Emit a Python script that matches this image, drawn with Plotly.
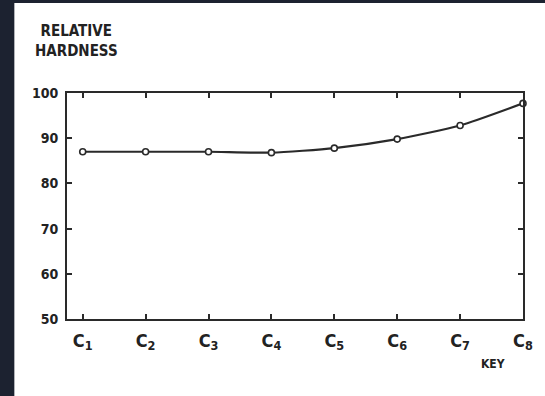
import plotly.graph_objects as go

# Relative hardness for each key
keys = ["C<sub>1</sub>", "C<sub>2</sub>", "C<sub>3</sub>", "C<sub>4</sub>",
        "C<sub>5</sub>", "C<sub>6</sub>", "C<sub>7</sub>", "C<sub>8</sub>"]
hardness = [87.0, 87.0, 87.0, 86.8, 87.8, 89.8, 92.8, 97.7]
y_ticks = [50, 60, 70, 80, 90, 100]

FONT = "DejaVu Sans Condensed"
INK = "#2a2a2a"

W, H = 545, 396
L, R, T, B = 67, 19, 93, 77
pw, ph = W - L - R, H - T - B

def px_x(x):
    return (x - L) / pw

def px_y(y):
    return (H - B - y) / ph

xs = list(range(len(keys)))

fig = go.Figure()
fig.add_trace(go.Scatter(
    x=xs, y=hardness,
    mode="lines+markers",
    line=dict(color=INK, width=2.2, shape="spline", smoothing=0.6),
    marker=dict(symbol="circle", size=6, color="white",
                line=dict(color=INK, width=1.6)),
    cliponaxis=False,
    hoverinfo="skip",
))

axis_common = dict(
    showline=True, linecolor=INK, linewidth=2, mirror="allticks",
    ticks="inside", ticklen=5, tickwidth=2, tickcolor=INK,
    showgrid=False, zeroline=False,
)

fig.update_xaxes(
    range=[-0.25, len(keys) - 1],
    tickvals=xs, ticktext=keys,
    ticklabelstandoff=4,
    tickfont=dict(family=FONT, size=18, color="#222222", weight="bold"),
    **axis_common,
)
fig.update_yaxes(
    range=[50, 100],
    tickvals=y_ticks,
    ticklabelstandoff=4,
    tickfont=dict(family=FONT, size=14, color="#222222", weight="bold"),
    **axis_common,
)

# White sheet behind the chart, leaving a dark border on the left and top
fig.add_shape(type="rect", xref="paper", yref="paper",
              x0=px_x(14), x1=px_x(W + 5), y0=px_y(H + 5), y1=px_y(3),
              fillcolor="white", line=dict(width=0), layer="below")

fig.add_annotation(
    text="RELATIVE<br>HARDNESS", xref="paper", yref="paper",
    x=px_x(77), y=px_y(20), xanchor="center", yanchor="top", align="center",
    showarrow=False,
    font=dict(family=FONT, size=15, color="#222222", weight="bold"),
)
fig.add_annotation(
    text="KEY", xref="paper", yref="paper",
    x=px_x(482), y=px_y(355), xanchor="left", yanchor="top",
    showarrow=False,
    font=dict(family=FONT, size=12, color="#222222", weight="bold"),
)

fig.update_layout(
    width=W, height=H,
    margin=dict(l=L, r=R, t=T, b=B),
    paper_bgcolor="#1c2230",
    plot_bgcolor="white",
    showlegend=False,
)

fig.write_html("out.html")
